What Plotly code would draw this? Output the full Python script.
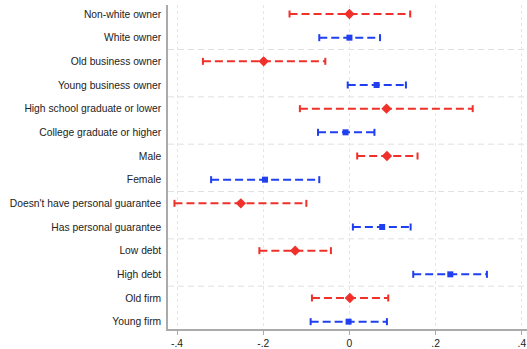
import plotly.graph_objects as go

categories = ["Non-white owner", "White owner", "Old business owner", "Young business owner",
              "High school graduate or lower", "College graduate or higher", "Male", "Female",
              "Doesn't have personal guarantee", "Has personal guarantee", "Low debt", "High debt",
              "Old firm", "Young firm"]
estimates = [0.000, 0.000, -0.199, 0.063, 0.086, -0.009, 0.087, -0.196,
             -0.252, 0.076, -0.126, 0.234, 0.001, -0.002]
ci_low = [-0.139, -0.070, -0.340, -0.004, -0.115, -0.073, 0.018, -0.321,
          -0.406, 0.008, -0.209, 0.148, -0.087, -0.090]
ci_high = [0.141, 0.071, -0.056, 0.131, 0.286, 0.058, 0.158, -0.070,
           -0.100, 0.142, -0.043, 0.319, 0.090, 0.087]
groups = ["red", "blue"] * 7
x_ticks = [-0.4, -0.2, 0, 0.2, 0.4]
x_tick_labels = ["-.4", "-.2", "0", ".2", ".4"]

RED = "#f0302a"
BLUE = "#1f3ff0"
style = {"red": (RED, "diamond", 8), "blue": (BLUE, "square", 6)}

fig = go.Figure()
for g in ["red", "blue"]:
    color, sym, msize = style[g]
    idx = [i for i, gg in enumerate(groups) if gg == g]
    xs, ys = [], []
    for i in idx:
        xs += [ci_low[i], ci_high[i], None]
        ys += [i, i, None]
    fig.add_trace(go.Scatter(x=xs, y=ys, mode="lines",
                             line=dict(color=color, width=2, dash="8px,4px"),
                             hoverinfo="skip", showlegend=False))
    cx, cy = [], []
    for i in idx:
        cx += [ci_low[i], ci_high[i]]
        cy += [i, i]
    fig.add_trace(go.Scatter(x=cx, y=cy, mode="markers",
                             marker=dict(symbol="line-ns", size=5,
                                         line=dict(color=color, width=2)),
                             hoverinfo="skip", showlegend=False))
    fig.add_trace(go.Scatter(x=[estimates[i] for i in idx], y=idx, mode="markers",
                             marker=dict(symbol=sym, size=msize, color=color),
                             showlegend=False))

for k in range(1, 7):
    yv = 2 * k - 0.5
    fig.add_shape(type="line", xref="paper", x0=0, x1=1, y0=yv, y1=yv,
                  line=dict(color="#e0e0e0", width=1, dash="6px,4px"), layer="below")

fig.update_layout(
    width=527, height=349,
    margin=dict(l=168, r=0, t=5, b=20),
    plot_bgcolor="white", paper_bgcolor="white",
    font=dict(family="Liberation Sans, Arial, sans-serif", size=10.3, color="#222"),
    xaxis=dict(range=[-0.421, 0.412], tickvals=x_ticks, ticktext=x_tick_labels,
               showgrid=True, gridcolor="#e6e6e6", griddash="dot", gridwidth=1,
               zeroline=False, showline=True, linecolor="#aaaaaa", linewidth=1.5,
               ticks="outside", ticklen=4, tickcolor="#aaaaaa", tickwidth=1),
    yaxis=dict(range=[13.31, -0.38], tickvals=list(range(len(categories))),
               ticktext=categories, showgrid=False, zeroline=False,
               showline=True, linecolor="#aaaaaa", linewidth=1.5, ticks="", ticklabelstandoff=3),
)

fig.write_html("out.html")
